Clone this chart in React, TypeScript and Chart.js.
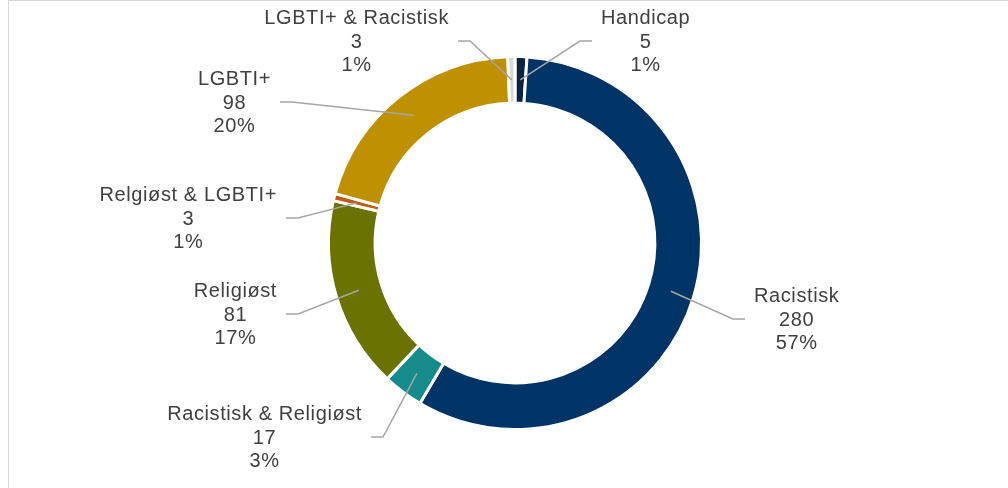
import React, { useEffect, useRef } from "react";
import { Chart, registerables } from "chart.js";

Chart.register(...registerables);

const categories = [
  "Handicap",
  "Racistisk",
  "Racistisk & Religiøst",
  "Religiøst",
  "Relgiøst & LGBTI+",
  "LGBTI+",
  "LGBTI+ & Racistisk",
];
const counts = [5, 280, 17, 81, 3, 98, 3];
const percentLabels = ["1%", "57%", "3%", "17%", "1%", "20%", "1%"];
const sliceColors = [
  "#0B2241",
  "#003366",
  "#168B8B",
  "#6A7200",
  "#C65911",
  "#BF9000",
  "#D9D9D9",
];
// label elbow offsets from the doughnut centre (px)
const labelOffsets: [number, number][] = [
  [65, -202],
  [218, 76],
  [-132, 194],
  [-217, 71],
  [-217, -25],
  [-223, -141],
  [-45, -202],
];

const FONT = '20px "Liberation Sans", Arial, sans-serif';
const TEXT_COLOR = "#404040";
const LINE_COLOR = "#A6A6A6";

const labelPlugin = {
  id: "outerLabels",
  afterDatasetsDraw(chart: any) {
    const ctx = chart.ctx as CanvasRenderingContext2D;
    const meta = chart.getDatasetMeta(0);
    ctx.save();
    ctx.font = FONT;
    (ctx as any).letterSpacing = "0.6px";
    meta.data.forEach((arc: any, i: number) => {
      const p = arc.getProps(
        ["x", "y", "startAngle", "endAngle", "innerRadius", "outerRadius"],
        true
      );
      const mid = (p.startAngle + p.endAngle) / 2;
      const rm = (p.innerRadius + p.outerRadius) / 2;
      const sx = p.x + Math.cos(mid) * rm;
      const sy = p.y + Math.sin(mid) * rm;
      const [dx, dy] = labelOffsets[i];
      const ex = p.x + dx;
      const ey = p.y + dy;
      const side = dx > 0 ? 1 : -1;
      const tx = ex + side * 12;
      ctx.strokeStyle = LINE_COLOR;
      ctx.lineWidth = 1.5;
      ctx.beginPath();
      ctx.moveTo(sx, sy);
      ctx.lineTo(ex, ey);
      ctx.lineTo(tx, ey);
      ctx.stroke();

      const lines = [categories[i], String(counts[i]), percentLabels[i]];
      const w = Math.max(...lines.map((l) => ctx.measureText(l).width));
      const cx = tx + side * (9 + w / 2);
      ctx.fillStyle = TEXT_COLOR;
      ctx.textAlign = "center";
      ctx.textBaseline = "middle";
      lines.forEach((l, k) => {
        ctx.fillText(l, cx, ey + 1 + (k - 1) * 23.5);
      });
    });
    ctx.restore();
  },
};

export default function App() {
  const ref = useRef<HTMLCanvasElement>(null);
  useEffect(() => {
    if (!ref.current) return;
    const chart = new Chart(ref.current, {
      type: "doughnut",
      data: {
        labels: categories,
        datasets: [
          {
            data: counts,
            backgroundColor: sliceColors,
            borderColor: "#FFFFFF",
            borderWidth: 3,
            hoverBorderWidth: 3,
            hoverOffset: 0,
          },
        ],
      },
      options: {
        animation: false,
        responsive: false,
        cutout: "75%",
        layout: { padding: { left: 327, right: 305, top: 55, bottom: 57 } },
        plugins: {
          legend: { display: false },
          tooltip: { enabled: false },
        },
        events: [],
      },
      plugins: [labelPlugin],
    });
    return () => chart.destroy();
  }, []);
  return (
    <div
      style={{
        position: "fixed",
        left: 0,
        top: 0,
        width: 1008,
        height: 488,
        background: "#fff",
        overflow: "hidden",
      }}
    >
      <div
        style={{
          position: "absolute",
          left: 8,
          top: 0,
          width: 1100,
          height: 600,
          borderLeft: "1px solid #D9D9D9",
          borderTop: "1px solid #D9D9D9",
        }}
      />
      <canvas
        ref={ref}
        width={1008}
        height={488}
        style={{ position: "absolute", left: 0, top: 0, width: 1008, height: 488 }}
      />
    </div>
  );
}
